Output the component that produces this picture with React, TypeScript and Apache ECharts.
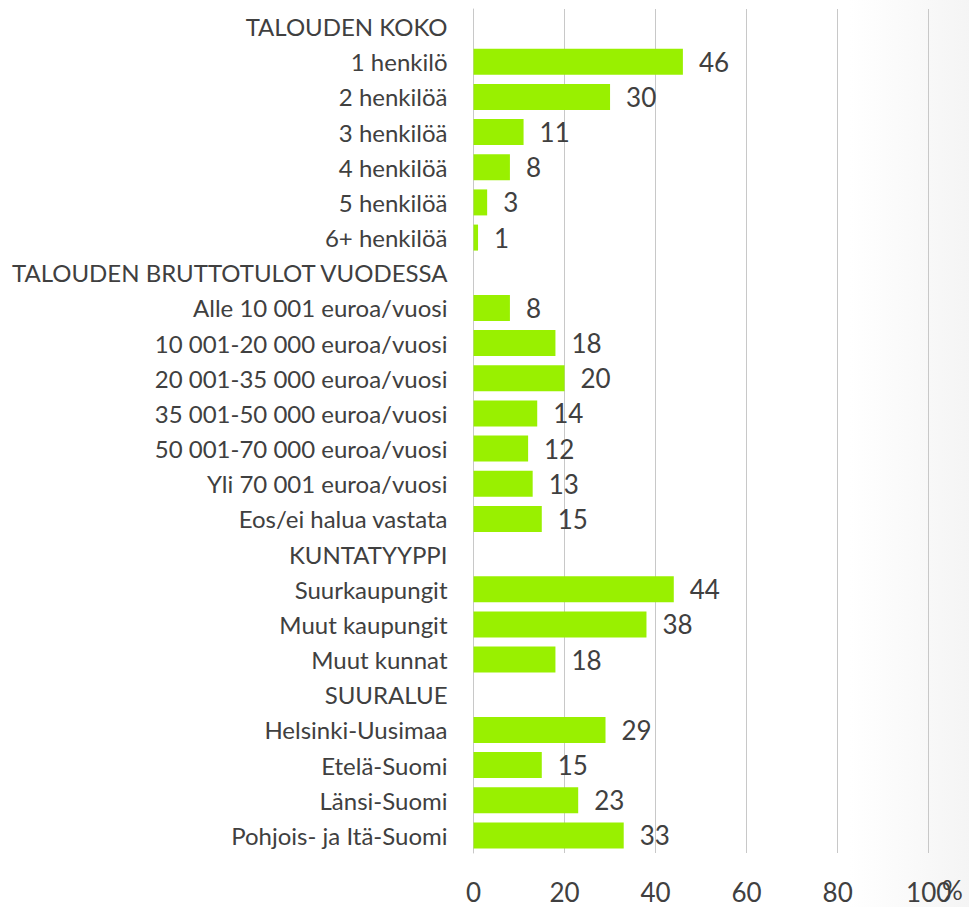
import React, { useEffect, useRef } from "react";
import * as echarts from "echarts";

const categories: string[] = [
  "TALOUDEN KOKO",
  "1 henkilö",
  "2 henkilöä",
  "3 henkilöä",
  "4 henkilöä",
  "5 henkilöä",
  "6+ henkilöä",
  "TALOUDEN BRUTTOTULOT VUODESSA",
  "Alle 10 001 euroa/vuosi",
  "10 001-20 000 euroa/vuosi",
  "20 001-35 000 euroa/vuosi",
  "35 001-50 000 euroa/vuosi",
  "50 001-70 000 euroa/vuosi",
  "Yli 70 001 euroa/vuosi",
  "Eos/ei halua vastata",
  "KUNTATYYPPI",
  "Suurkaupungit",
  "Muut kaupungit",
  "Muut kunnat",
  "SUURALUE",
  "Helsinki-Uusimaa",
  "Etelä-Suomi",
  "Länsi-Suomi",
  "Pohjois- ja Itä-Suomi",
];

const values: (number | null)[] = [
  null, 46, 30, 11, 8, 3, 1,
  null, 8, 18, 20, 14, 12, 13, 15,
  null, 44, 38, 18,
  null, 29, 15, 23, 33,
];

const xTicks = { min: 0, max: 100, interval: 20 };
const unitLabel = "%";

export default function App() {
  const ref = useRef<HTMLDivElement>(null);
  useEffect(() => {
    if (!ref.current) return;
    const chart = echarts.init(ref.current, undefined, { renderer: "svg" });
    const font = "Lato, 'Open Sans', sans-serif";
    chart.setOption({
      animation: false,
      backgroundColor: "#ffffff",
      textStyle: { fontFamily: font },
      grid: { left: 473.5, right: 40.3, top: 9, bottom: 54, containLabel: false },
      xAxis: {
        type: "value",
        min: xTicks.min,
        max: xTicks.max,
        interval: xTicks.interval,
        axisLine: { show: false },
        axisTick: { show: false },
        splitLine: { show: true, lineStyle: { color: "#c8c8c8", width: 1 } },
        axisLabel: {
          color: "#404040",
          fontSize: 26,
          lineHeight: 26,
          margin: 26,
          fontFamily: font,
        },
      },
      yAxis: {
        type: "category",
        data: categories,
        inverse: true,
        axisLine: { show: true, lineStyle: { color: "#c8c8c8", width: 1 } },
        axisTick: { show: false },
        axisLabel: { color: "#404040", fontSize: 24, margin: 26, fontFamily: font },
      },
      graphic: [
        {
          type: "rect",
          left: 850,
          top: 0,
          z: -10,
          silent: true,
          shape: { width: 119, height: 907 },
          style: {
            fill: new echarts.graphic.LinearGradient(0, 0, 1, 0, [
              { offset: 0, color: "rgba(240,240,240,0)" },
              { offset: 1, color: "rgba(240,240,240,0.7)" },
            ]),
          },
        },
        {
          type: "text",
          left: 942,
          top: 877,
          style: { text: unitLabel, fill: "#404040", font: `26px ${font}` },
        },
      ],
      series: [
        {
          type: "bar",
          data: values,
          barWidth: 26,
          itemStyle: { color: "#99f000" },
          label: {
            show: true,
            position: "right",
            distance: 16,
            color: "#404040",
            fontSize: 26,
            fontFamily: font,
          },
        },
      ],
    });
    return () => chart.dispose();
  }, []);
  return (
    <div
      ref={ref}
      style={{ position: "absolute", left: 0, top: 0, width: 969, height: 907 }}
    />
  );
}
